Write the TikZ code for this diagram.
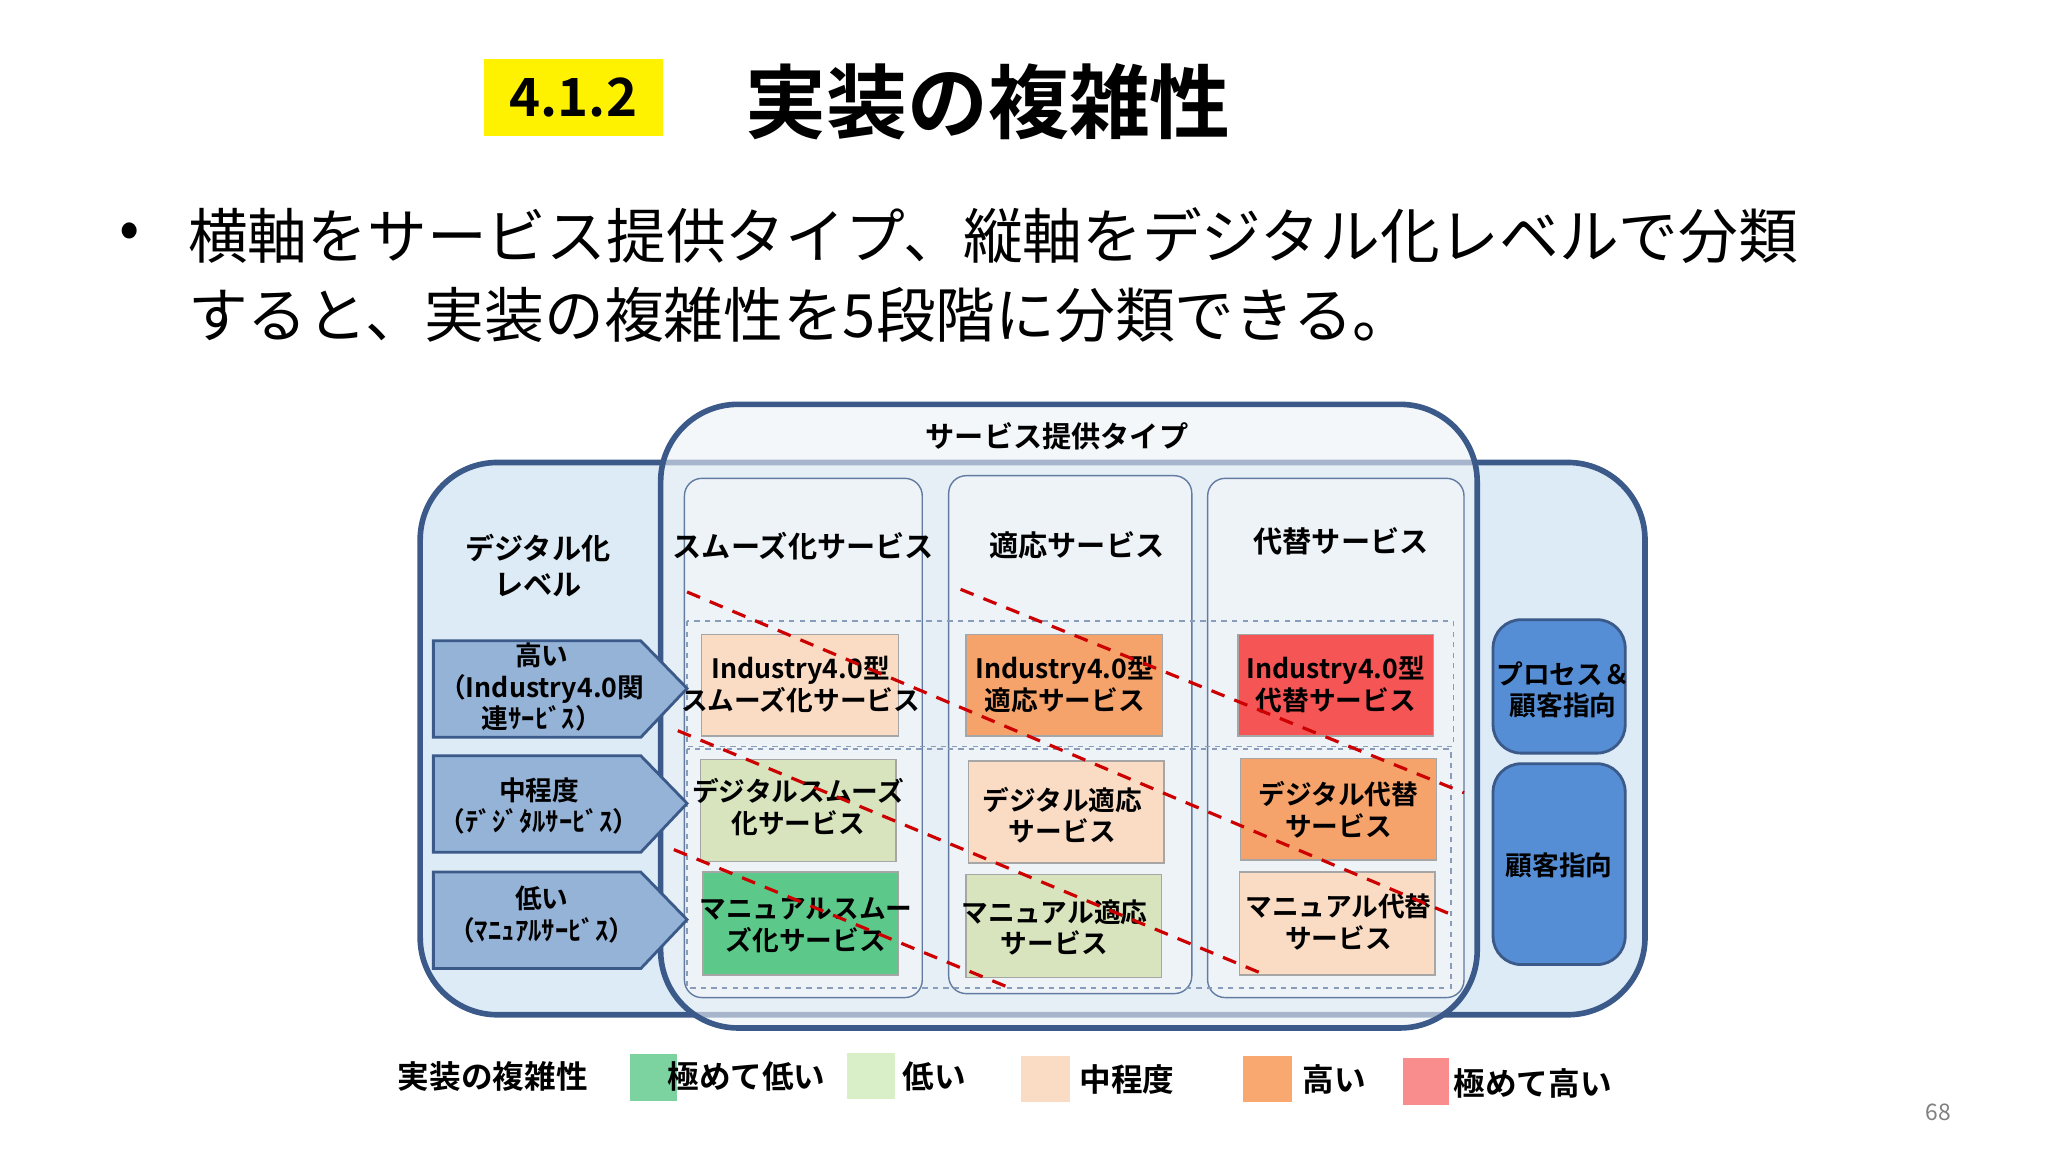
\documentclass[tikz,border=0pt]{standalone}
\usepackage{fontspec}
\setmainfont{Noto Sans CJK JP}[BoldFont={Noto Sans CJK JP Bold}]
\definecolor{dkb}{HTML}{3B5A8A}
\definecolor{outerf}{HTML}{DCEBF5}
\definecolor{innerf}{HTML}{EEF3F8}
\definecolor{peach}{HTML}{FADCC4}
\definecolor{orng}{HTML}{F5A26B}
\definecolor{redc}{HTML}{F55555}
\definecolor{lgrn}{HTML}{D7E4BD}
\definecolor{grn}{HTML}{5CC98A}
\definecolor{arrf}{HTML}{95B3D7}
\definecolor{blu}{HTML}{558ED5}
\definecolor{lg1}{HTML}{7DD3A0}
\definecolor{lg2}{HTML}{D8EFC8}
\definecolor{lg3}{HTML}{FADCC4}
\definecolor{lg4}{HTML}{F9A870}
\definecolor{lg5}{HTML}{F98C8C}
\begin{document}
\begin{tikzpicture}[x=0.013213cm,y=-0.013213cm,
  cell/.style={align=center,font=\bfseries\fontsize{7.6}{9}\selectfont,inner sep=0pt},
  colbox/.style={draw=dkb!80,line width=0.4pt,fill=innerf,rounded corners=5pt},
  hdr/.style={font=\bfseries\fontsize{8.3}{10}\selectfont,align=center},
  lvl/.style={font=\bfseries\fontsize{7.6}{9}\selectfont,align=center},
  reddash/.style={draw=red!80!black,line width=0.9pt,dash pattern=on 4pt off 3pt},
  legt/.style={font=\bfseries\fontsize{9}{11}\selectfont}]
\useasboundingbox (0,0) rectangle (1550,872);
\fill[white] (0,0) rectangle (1550,872);
% header
\fill[yellow] (366,45) rectangle (502,103);
\node[font=\bfseries\fontsize{15}{18}\selectfont] (numt) at (434,74) {4.1.2};
\node[font=\bfseries\fontsize{23}{28}\selectfont] (title) at (748,77) {実装の複雑性};
\node[font=\fontsize{17}{20}\selectfont] (bul) at (98,178) {•};
\node[font=\fontsize{17}{22}\selectfont,anchor=west] (l1) at (133,178) {横軸をサービス提供タイプ、縦軸をデジタル化レベルで分類};
\node[font=\fontsize{17}{22}\selectfont,anchor=west] (l2) at (133,238) {すると、実装の複雑性を5段階に分類できる。};
% outer boxes
\draw[draw=dkb,line width=1.6pt,fill=outerf,rounded corners=22pt] (318,350) rectangle (1245,768);
\draw[draw=dkb,line width=1.6pt,fill=innerf,fill opacity=0.6,rounded corners=22pt] (500,306) rectangle (1118,778);
\node[hdr] (svc) at (800,330) {サービス提供タイプ};
\node[hdr] (dig) at (407,428) {デジタル化\\レベル};
% columns
\draw[colbox] (518,362) rectangle (698,755);
\draw[colbox] (718,360) rectangle (902,752);
\draw[colbox] (914,362) rectangle (1108,755);
\node[hdr] (h1) at (608,413) {スムーズ化サービス};
\node[hdr] (h2) at (815,413) {適応サービス};
\node[hdr] (h3) at (1015,410) {代替サービス};
% dashed row rects
\draw[dkb!60,line width=0.5pt,dash pattern=on 1.5pt off 1.5pt] (520,470) rectangle (1100,565);
\draw[dkb!60,line width=0.5pt,dash pattern=on 1.5pt off 1.5pt] (520,567) rectangle (1098,748);
% cells
\draw[gray!70,fill=peach] (531,480) rectangle (680,557); \node[cell] (c11) at (606,518) {Industry4.0型\\スムーズ化サービス};
\draw[gray!70,fill=orng] (731,480) rectangle (880,557); \node[cell] (c12) at (806,518) {Industry4.0型\\適応サービス};
\draw[gray!70,fill=redc] (937,480) rectangle (1085,557); \node[cell] (c13) at (1011,518) {Industry4.0型\\代替サービス};
\draw[gray!70,fill=lgrn] (530,575) rectangle (678,652); \node[cell] (c21) at (604,611) {デジタルスムーズ\\化サービス};
\draw[gray!70,fill=peach] (733,576) rectangle (881,653); \node[cell] (c22) at (804,617) {デジタル適応\\サービス};
\draw[gray!70,fill=orng] (939,574) rectangle (1087,651); \node[cell] (c23) at (1013,613) {デジタル代替\\サービス};
\draw[gray!70,fill=grn] (532,660) rectangle (680,738); \node[cell] (c31) at (610,700) {マニュアルスムー\\ズ化サービス};
\draw[gray!70,fill=lgrn] (731,662) rectangle (879,740); \node[cell] (c32) at (798,702) {マニュアル適応\\サービス};
\draw[gray!70,fill=peach] (938,660) rectangle (1086,738); \node[cell] (c33) at (1013,698) {マニュアル代替\\サービス};
% level arrows
\draw[dkb,fill=arrf,line width=0.8pt] (328,485) -- (485,485) -- (520,521) -- (485,558) -- (328,558) -- cycle;
\draw[dkb,fill=arrf,line width=0.8pt] (328,572) -- (485,572) -- (520,608) -- (485,645) -- (328,645) -- cycle;
\draw[dkb,fill=arrf,line width=0.8pt] (328,660) -- (485,660) -- (520,696) -- (485,733) -- (328,733) -- cycle;
\node[lvl] (a1) at (410,520) {高い\\（Industry4.0関\\連ｻｰﾋﾞｽ）};
\node[lvl] (a2) at (408,610) {中程度\\（ﾃﾞｼﾞﾀﾙｻｰﾋﾞｽ）};
\node[lvl] (a3) at (410,692) {低い\\（ﾏﾆｭｱﾙｻｰﾋﾞｽ）};
% right boxes
\draw[dkb,fill=blu,line width=0.8pt,rounded corners=8pt] (1130,469) rectangle (1230,570);
\draw[dkb,fill=blu,line width=0.8pt,rounded corners=8pt] (1130,578) rectangle (1230,730);
\node[lvl] (r1) at (1183,522) {プロセス＆\\顧客指向};
\node[lvl] (r2) at (1180,655) {顧客指向};
% red dashed diagonals
\coordinate (d1a) at (727,446); \coordinate (d1b) at (1108,600);
\coordinate (d2a) at (520,448); \coordinate (d2b) at (1098,692);
\coordinate (d3a) at (513,553); \coordinate (d3b) at (958,738);
\coordinate (d4a) at (510,643); \coordinate (d4b) at (765,748);
\draw[reddash] (d1a) -- (d1b);
\draw[reddash] (d2a) -- (d2b);
\draw[reddash] (d3a) -- (d3b);
\draw[reddash] (d4a) -- (d4b);
% legend
\node[legt] (lg) at (373,815) {実装の複雑性};
\fill[lg1] (477,798) rectangle (512,833); \node[legt] (t1) at (565,815) {極めて低い};
\fill[lg2] (641,797) rectangle (677,832); \node[legt] (t2) at (707,815) {低い};
\fill[lg3] (773,799) rectangle (810,834); \node[legt] (t3) at (853,817) {中程度};
\fill[lg4] (941,799) rectangle (978,834); \node[legt] (t4) at (1010,817) {高い};
\fill[lg5] (1062,801) rectangle (1097,836); \node[legt] (t5) at (1160,820) {極めて高い};
\node[font=\fontsize{6.5}{8}\selectfont,text=gray] (pg) at (1467,842) {68};
\end{tikzpicture}
\end{document}
